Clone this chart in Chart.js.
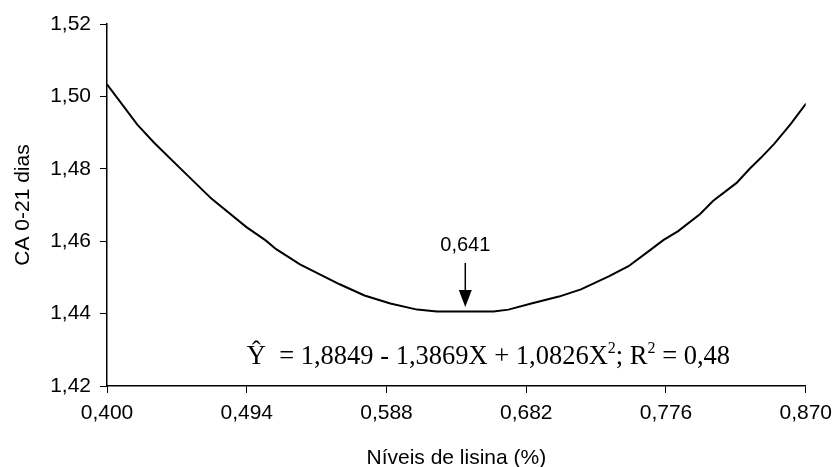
<!DOCTYPE html>
<html>
<head>
<meta charset="utf-8">
<script src="https://cdn.jsdelivr.net/npm/chart.js@4.4.1/dist/chart.umd.min.js"></script>
<style>
  html, body { margin: 0; padding: 0; background: #fff; }
  #wrap { width: 840px; height: 467px; }
</style>
</head>
<body>
<div id="wrap"><canvas id="chart" width="840" height="467"></canvas></div>
<script>
// Values
const lysineLevels = [0.400, 0.4204, 0.4317, 0.4531, 0.4704, 0.4938, 0.5065, 0.5138, 0.5298, 0.5565, 0.5732, 0.5906, 0.6086, 0.6220, 0.6600, 0.6700, 0.6854, 0.7040, 0.7188, 0.7375, 0.7508, 0.7642, 0.7742, 0.7842, 0.7990, 0.8076, 0.8235, 0.8323, 0.8400, 0.8488, 0.8601, 0.8702];
const feedConversion = [1.5033, 1.4922, 1.4872, 1.4786, 1.4717, 1.4639, 1.4603, 1.4578, 1.4536, 1.4481, 1.4450, 1.4428, 1.4411, 1.4406, 1.4406, 1.4411, 1.4428, 1.4447, 1.4467, 1.4503, 1.4531, 1.4572, 1.4603, 1.4628, 1.4675, 1.4711, 1.4761, 1.4800, 1.4831, 1.4869, 1.4925, 1.4980];

const xTicks = [0.400, 0.494, 0.588, 0.682, 0.776, 0.870];
const yTicks = [1.42, 1.44, 1.46, 1.48, 1.50, 1.52];

// Optimum marker and regression equation
const optimumX = 0.641;
const optimumLabel = '0,641';
const equationParts = [
  ['Ŷ  = 1,8849 - 1,3869X + 1,0826X', false],
  ['2', true],
  ['; R', false],
  ['2', true],
  [' = 0,48', false]
];

const points = lysineLevels.map((x, i) => ({ x: x, y: feedConversion[i] }));
const sans = '"Liberation Sans", Arial, sans-serif';
const serif = '"Liberation Serif", "Times New Roman", serif';

const annotations = {
  id: 'annotations',
  afterDatasetsDraw(chart) {
    const ctx = chart.ctx;
    const xs = chart.scales.x;
    const ys = chart.scales.y;

    // arrow pointing to the minimum
    const ax = xs.getPixelForValue(optimumX);
    const top = ys.getPixelForValue(1.4540);
    const tip = ys.getPixelForValue(1.4418);
    ctx.save();
    ctx.strokeStyle = '#000';
    ctx.fillStyle = '#000';
    ctx.lineWidth = 1.5;
    ctx.beginPath();
    ctx.moveTo(ax, top);
    ctx.lineTo(ax, tip - 14);
    ctx.stroke();
    ctx.beginPath();
    ctx.moveTo(ax - 6.5, tip - 17);
    ctx.lineTo(ax + 6.5, tip - 17);
    ctx.lineTo(ax, tip);
    ctx.closePath();
    ctx.fill();

    ctx.font = '20px ' + sans;
    ctx.textAlign = 'center';
    ctx.textBaseline = 'middle';
    ctx.fillText(optimumLabel, ax, top - 17);

    // regression equation
    let ex = xs.getPixelForValue(0.494);
    const ey = ys.getPixelForValue(1.4261);
    ctx.textAlign = 'left';
    ctx.textBaseline = 'alphabetic';
    equationParts.forEach(([txt, sup]) => {
      ctx.font = sup ? '16px ' + serif : '26.5px ' + serif;
      ctx.fillText(txt, ex, sup ? ey - 11 : ey);
      ex += ctx.measureText(txt).width;
    });
    ctx.restore();
  }
};

new Chart(document.getElementById('chart').getContext('2d'), {
  type: 'scatter',
  data: {
    datasets: [{
      data: points,
      showLine: true,
      borderColor: '#000',
      borderWidth: 2,
      pointRadius: 0,
      tension: 0
    }]
  },
  options: {
    responsive: false,
    animation: false,
    layout: { padding: { top: 24, right: 28, left: 0, bottom: 0 } },
    plugins: { legend: { display: false }, tooltip: { enabled: false } },
    scales: {
      x: {
        type: 'linear',
        min: 0.400,
        max: 0.870,
        afterBuildTicks: (scale) => { scale.ticks = xTicks.map(v => ({ value: v })); },
        afterFit: (scale) => { scale.height = 81; },
        grid: { drawOnChartArea: false, color: '#000', tickLength: 7 },
        border: { color: '#000', width: 1.5 },
        ticks: {
          color: '#000',
          padding: 8,
          maxRotation: 0,
          font: { family: sans, size: 21 },
          callback: (v) => v.toFixed(3).replace('.', ',')
        },
        title: {
          display: true,
          text: 'Níveis de lisina (%)',
          color: '#000',
          padding: { top: 0, bottom: -2 },
          font: { family: sans, size: 21, lineHeight: 1 }
        }
      },
      y: {
        min: 1.42,
        max: 1.52,
        afterBuildTicks: (scale) => { scale.ticks = yTicks.map(v => ({ value: v })); },
        afterFit: (scale) => { scale.width = 107; },
        grid: { drawOnChartArea: false, color: '#000', tickLength: 7 },
        border: { color: '#000', width: 1.5 },
        ticks: {
          color: '#000',
          padding: 9,
          font: { family: sans, size: 21 },
          callback: (v) => v.toFixed(2).replace('.', ',')
        },
        title: {
          display: true,
          text: 'CA 0-21 dias',
          color: '#000',
          padding: { top: 13, bottom: 0 },
          font: { family: sans, size: 21, lineHeight: 1 }
        }
      }
    }
  },
  plugins: [annotations]
});
</script>
</body>
</html>
